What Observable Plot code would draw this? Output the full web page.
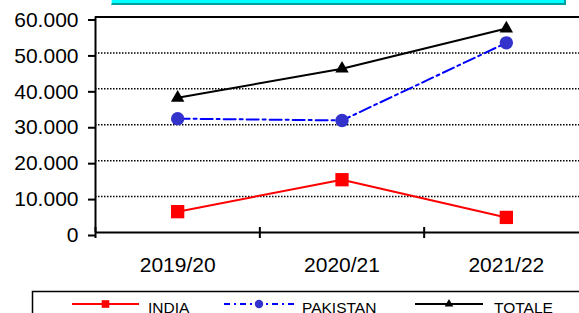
<!DOCTYPE html>
<html><head><meta charset="utf-8">
<script src="https://cdn.jsdelivr.net/npm/d3@7"></script>
<script src="https://cdn.jsdelivr.net/npm/@observablehq/plot@0.6"></script>
<style>
html,body{margin:0;padding:0;background:#fff;overflow:hidden}
#wrap{position:relative;width:579px;height:313px;overflow:hidden;font-family:"Liberation Sans",Arial,sans-serif}
#titlebox{position:absolute;left:111px;top:-12px;width:452px;height:15px;background:#00ffff;border-right:2px solid #00a0a0;border-bottom:2px solid #00a0a0;border-left:1px solid #a0ffff}
#chart{position:absolute;left:0;top:0}
#legend{position:absolute;left:0;top:0}
</style></head><body>
<div id="wrap"><div id="chart"></div><div id="titlebox"></div><svg id="legend" width="579" height="313"></svg></div>
<script>
const categories = ["2019/20", "2020/21", "2021/22"];
const seriesNames = ["INDIA", "PAKISTAN", "TOTALE"];
const india = [5800, 14700, 4200];
const pakistan = [31700, 31200, 52800];
const totale = [37500, 45600, 56800];
const yTicks = [0, 10000, 20000, 30000, 40000, 50000, 60000];
const gridValues = [10000, 20000, 30000, 40000, 50000];

const valuesBySeries = {INDIA: india, PAKISTAN: pakistan, TOTALE: totale};
const styles = {
  INDIA: {stroke: "#ff0000", fill: "#ff0000", symbol: "square", r: 7.5, dash: null, lr: 4.3},
  PAKISTAN: {stroke: "#0000ff", fill: "#3333cc", symbol: "circle", r: 6.7, dash: "12,4,3,4", lr: 4.2},
  TOTALE: {stroke: "#000000", fill: "#000000", symbol: "triangle", r: 5, dash: null, lr: 3.2}
};

const rows = seriesNames.flatMap(s => categories.map((c, i) => ({serie: s, cat: c, i, v: valuesBySeries[s][i]})));
const fmt = v => v === 0 ? "0" : d3.format(",")(v).replace(/,/g, ".");

const marks = [
  Plot.ruleY(gridValues, {stroke: "#000", strokeWidth: 1.5, strokeDasharray: "1.5,1.5"}),
  Plot.ruleY([60000], {stroke: "#000", strokeWidth: 2}),
  Plot.ruleY([0], {stroke: "#000", strokeWidth: 2}),
  Plot.ruleX([-0.5], {stroke: "#000", strokeWidth: 2}),
  Plot.ruleX([-0.5, 0.5, 1.5, 2.5], {y1: 0, y2: 0, insetTop: -5, insetBottom: -6, stroke: "#000", strokeWidth: 2}),
  Plot.axisY({ticks: yTicks, tickFormat: fmt, tickSize: 7, tickPadding: 10, fontSize: 21, stroke: "#000", strokeWidth: 2, fill: "#000", dy: 3, label: null}),
  Plot.axisX({ticks: [0, 1, 2], tickFormat: i => categories[i], tickSize: 0, tickPadding: 25, fontSize: 21, fill: "#000", label: null})
];
for (const s of seriesNames) {
  const st = styles[s];
  const data = rows.filter(d => d.serie === s);
  marks.push(Plot.line(data, {x: "i", y: "v", stroke: st.stroke, strokeWidth: 2, strokeDasharray: st.dash}));
}
for (const s of seriesNames) {
  const st = styles[s];
  const data = rows.filter(d => d.serie === s);
  marks.push(Plot.dot(data, {x: "i", y: "v", symbol: () => st.symbol, fill: st.fill, stroke: "none", r: st.r}));
}

const chart = Plot.plot({
  width: 579, height: 313,
  marginLeft: 95, marginRight: 0, marginTop: 16.5, marginBottom: 81,
  x: {type: "linear", domain: [-0.5, 2.5], range: [95, 588], axis: null, label: null},
  y: {domain: [0, 60000], range: [232, 16.5], axis: null, label: null},
  style: {fontFamily: "'Liberation Sans', Arial, sans-serif", background: "transparent", color: "#000"},
  marks
});
document.getElementById("chart").appendChild(chart);

// legend
const lg = d3.select("#legend");
lg.append("rect").attr("x", 32.5).attr("y", 291.5).attr("width", 620).attr("height", 60)
  .attr("fill", "#fff").attr("stroke", "#000").attr("stroke-width", 1.5);
const legendPos = [{x0: 72, x1: 139, tx: 148}, {x0: 224, x1: 294, tx: 302}, {x0: 415, x1: 483, tx: 494}];
const symMap = {square: d3.symbolSquare, circle: d3.symbolCircle, triangle: d3.symbolTriangle};
seriesNames.forEach((s, k) => {
  const st = styles[s], p = legendPos[k], ly = 304;
  lg.append("line").attr("x1", p.x0).attr("x2", p.x1).attr("y1", ly).attr("y2", ly)
    .attr("stroke", st.stroke).attr("stroke-width", 2).attr("stroke-dasharray", st.dash ? "6,4,2,4" : null);
  lg.append("path").attr("transform", `translate(${(p.x0 + p.x1) / 2},${ly})`)
    .attr("d", d3.symbol(symMap[st.symbol], Math.PI * st.lr * st.lr)()).attr("fill", st.fill);
  lg.append("text").attr("x", p.tx).attr("y", 312.5).attr("font-size", 15.5)
    .attr("font-family", "'Liberation Sans', Arial, sans-serif").attr("fill", "#000").text(s);
});
</script></body></html>
